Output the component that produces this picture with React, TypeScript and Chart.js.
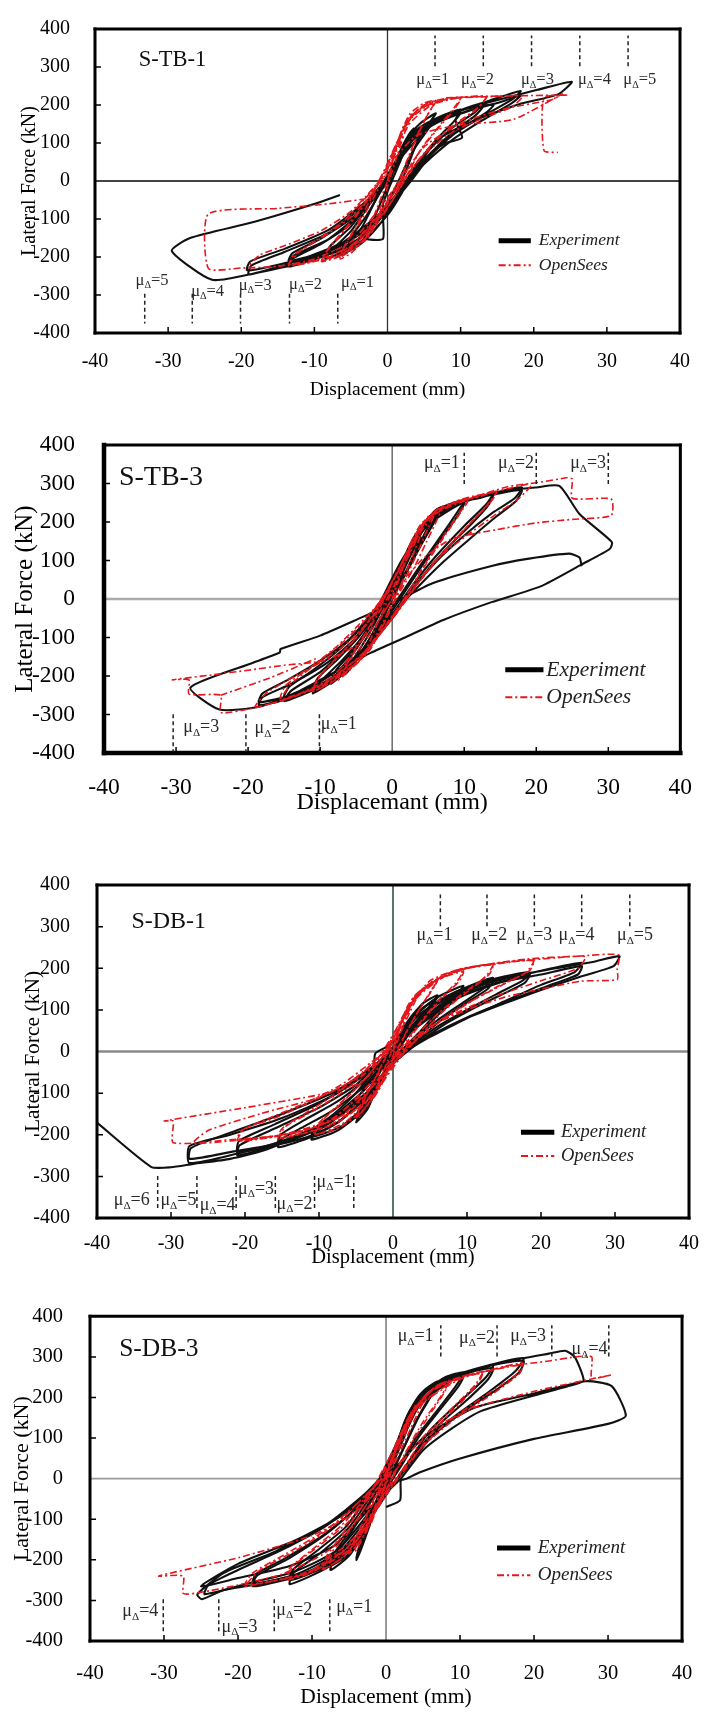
import React, { useEffect, useRef } from "react";
import { Chart, registerables } from "chart.js";
Chart.register(...registerables);

const SERIF = "'Liberation Serif', 'Times New Roman', serif";
const RED = "#e5161c";
const BLACK = "#111111";

// ---------- axes / labels ----------
const xTickValues = [-40, -30, -20, -10, 0, 10, 20, 30, 40];
const yTickValues = [-400, -300, -200, -100, 0, 100, 200, 300, 400];
const panelNames = ["S-TB-1", "S-TB-3", "S-DB-1", "S-DB-3"];
const xAxisTitles = ["Displacement (mm)", "Displacemant (mm)", "Displacement (mm)", "Displacement (mm)"];
const yAxisTitle = "Lateral Force (kN)";
const legendLabels = ["Experiment", "OpenSees"];

// ---------- S-TB-1 ----------
const tb1Experiment = [[
  0,0, 1,45, 2,90, 3,125, 3.6,138, 2.8,105, 1.8,55, 0.6,0, -0.6,-60, -0.6,-100, -0.6,-152, -2,-155, -3.2,-150, -2.2,-115, -1,-60, 0.3,0,
  1.5,60, 3,120, 4.5,152, 6.6,178, 5.6,150, 4,100, 2.8,40, 1.5,-20, 0,-85, -2,-135, -4,-170, -6.5,-195, -5.5,-170, -3.5,-122, -1.5,-45, 0,15,
  1.8,75, 4,135, 7,168, 10,188, 9.3,160, 10.2,114, 8,100, 6,75, 3.5,25, 2,-30, 0,-90, -3,-150, -6,-185, -8.5,-205, -7.5,-180, -5,-132, -2.5,-62, -0.5,0,
  1.5,62, 4,128, 7.5,170, 10.5,190, 13,205, 12,182, 9,142, 6,88, 3,10, 0,-80, -4,-152, -8,-192, -11,-212, -13.5,-225, -13,-205, -9,-165, -5,-112, -2,-42, 0,10,
  2,72, 5,140, 9,180, 12,195, 14.5,200, 13.5,180, 10,138, 6.5,82, 3.2,0, 0,-72, -4,-142, -9,-192, -13.5,-217, -12.8,-196, -8,-152, -3,-72, 0,0,
  3,100, 6,155, 10,185, 14,212, 18.2,237, 17,214, 13,170, 9,122, 5.5,60, 2.8,0, 0,-70, -5,-152, -10,-197, -15,-226, -19,-246, -18.6,-222, -14,-186, -8,-136, -3,-60, 0,10,
  3,105, 6.5,162, 11,192, 16,218, 20.5,240, 25.2,261, 23.3,228, 18,202, 12,160, 7,110, 3,10, 0,-80, -6,-167, -12,-216, -18,-242, -24,-260, -29.5,-184, -27,-150, -18.3,-108, -9.6,-58, -6.5,-37,
], [
  0,0, 2,70, 4,120, 6.5,160, 5.5,135, 3.5,80, 2,20, 0.5,-40, -1.5,-100, -4,-155, -6.5,-185, -5.5,-158, -3,-95, -1,-30,
  1,30, 3.5,110, 7,160, 10,180, 9,155, 6.5,105, 4,45, 2.5,0, 0,-75, -3,-140, -6,-178, -8.5,-195, -7.8,-170, -5,-120, -2,-45,
  0.5,20, 3,100, 7,158, 10.5,180, 13,195, 12,172, 9,130, 6,75, 3.5,15, 1,-50, -3,-130, -7.5,-180, -11,-200, -13.5,-210, -13,-190, -9,-150, -4,-85, -1,-15,
  2,65, 6,145, 11,185, 15,205, 18.2,225, 17,205, 13,160, 9,110, 5,45, 2.5,-5, -1,-85, -6,-160, -11,-200, -16,-225, -19.2,-235, -18.8,-212, -14,-178, -8,-128, -3,-55, 0,5,
]];
const tb1OpenSees = [[
  0,0, 1,75, 2,135, 3,170, 3.5,180, 2.5,135, 1.2,60, 0,-15, -1,-80, -2,-130, -3.2,-160, -2.5,-125, -1.2,-60, 0,0,
  1.5,100, 3,165, 5,200, 6.6,210, 5.5,175, 4,115, 2.5,40, 1,-40, -1.5,-115, -4,-170, -6.5,-200, -5.5,-160, -3.5,-100, -1.5,-30, 0,30,
  2,130, 4,185, 7,210, 10,218, 9,185, 7,140, 4.5,80, 2.5,10, 0,-70, -3,-140, -6,-190, -9,-210, -8,-175, -6,-130, -3.5,-70, -1.5,-10,
  1,80, 3,160, 6,205, 9,218, 13.5,222, 12,185, 9,145, 6,95, 3,20, 0,-70, -4,-160, -8,-200, -13.5,-222, -12,-185, -9,-150, -5,-95, -2,-30,
  0.5,50, 3,150, 6,200, 9.5,218, 14,222, 18.5,224, 17,195, 13,165, 9,130, 5,70, 2,0, -1,-80, -5,-170, -10,-210, -14,-222, -19,-227, -17.5,-195, -14,-170, -9,-130, -5,-80, -2,-20,
  1,60, 4,120, 10,148, 17.2,162, 23.9,229, 22.5,214, 16,190, 10,152, 5,90, 2,10, -1,-70, -5,-160, -10,-205, -15,-225, -20,-229, -24.5,-230, -24.5,-87, -15,-72, -8,-60, -2.2,-45,
], [
  8,219, 14,223, 20,225, 24.5,226, 21.4,219, 21.4,80, 23.3,75,
], [
  0,0, 1.5,110, 3,175, 5,205, 6.6,212, 5.8,185, 4.5,140, 3,70, 1.5,0, -0.5,-70, -2.5,-140, -5,-190, -6.5,-205, -6,-175, -4.5,-125, -2.5,-55,
  -0.5,20, 2.5,150, 5.5,205, 8,217, 10,219, 9.2,195, 7.5,155, 5,95, 2.5,20, 0,-60, -3,-150, -6.5,-198, -9,-212, -8.5,-190, -6.5,-145, -4,-85, -1.5,-15,
  1.5,110, 4,185, 8,215, 13.5,222, 12.5,195, 10,160, 7,115, 4,50, 1,-30, -2,-110, -6,-190, -10,-212, -13.5,-223, -12.8,-195, -10,-160, -6,-105, -3,-45, 0,20,
]];
const tb1MuTopX = [6.5, 13.1, 19.7, 26.3, 32.9];
const tb1MuTopLabelX = [6.2, 12.3, 20.5, 28.3, 34.5];
const tb1MuTopLabelY = [269, 269, 269, 269, 269];
const tb1MuTopNum = [1, 2, 3, 4, 5];
const tb1MuBotX = [-33.2, -26.7, -20.1, -13.4, -6.8];
const tb1MuBotLabelX = [-32.2, -24.6, -18.1, -11.2, -4.1];
const tb1MuBotLabelY = [-259, -287, -272, -270, -264];
const tb1MuBotNum = [5, 4, 3, 2, 1];

// ---------- S-TB-3 ----------
const tb3Experiment = [[
  0,0, 1.5,70, 3,130, 4,160, 3,115, 1.5,55, 0,0, -1.5,-60, -3,-115, -4,-140, -3,-100, -1.5,-45, 0,20,
  2,95, 4,170, 5.5,205, 4.5,170, 3,110, 1,40, -1,-30, -3,-105, -5,-160, -6.5,-195, -5.5,-160, -3.5,-100, -1.5,-30,
  0.5,50, 3,150, 5.5,215, 7,238, 6,205, 4,140, 2,70, 0,0, -3,-100, -6,-180, -8.5,-220, -7.5,-190, -5,-130, -2.5,-55,
  0,40, 3,160, 6,230, 8.5,250, 10,256, 9,225, 7,170, 4,90, 1.5,20, -1,-50, -4,-140, -8,-210, -11,-245, -10,-215, -7,-160, -4,-95, -1.5,-20,
  1,80, 4,185, 8,245, 12,265, 14,275, 13,245, 10,190, 6,110, 3,40, 0,-40, -4,-140, -9,-220, -14,-260, -15,-265, -14,-238, -10,-190, -6,-120, -2.5,-40,
  0.5,60, 4,180, 9,248, 14,275, 18,290, 17,262, 14,225, 10,165, 6,95, 3,30, 0,-50, -5,-160, -10,-225, -15,-262, -18.5,-276, -18,-255, -14,-220, -9,-165, -5,-100, -2,-20,
  1,90, 5,205, 10,255, 16,282, 20,290, 23.2,294, 26,221, 30.5,148, 30.2,130, 26.3,90, 20.6,33, 13.8,-8, 7,-55, 2,-98, -3,-140, -8,-190, -13,-240, -18.5,-280, -24,-287, -28,-230,
  -20,-170, -15.6,-139, -15.5,-130, -10,-95, -4.4,-49, 0,-12, 5.6,41, 13.8,86, 19,105, 24.5,118, 26,108, 26.3,85,
], [
  0,0, 2,110, 4,185, 6,230, 7,240, 6.2,215, 4.5,160, 2.5,90, 0.5,20, -1.5,-50, -4,-130, -6.5,-190, -8.5,-215, -7.8,-185, -5.5,-135, -3,-65,
  -0.5,10, 2.5,130, 5.5,215, 8.5,248, 10,250, 9.2,220, 7.5,175, 5,110, 2.5,40, 0,-30, -3.5,-125, -7,-195, -11,-238, -10.3,-205, -7.5,-155, -4.5,-95, -2,-25,
  1.5,100, 5,205, 9,250, 12,262, 14,270, 13.2,240, 11,195, 7.5,130, 4,55, 1,-20, -3.5,-120, -8,-200, -12,-240, -15,-255, -14.3,-228, -11,-185, -7,-125, -3,-50,
  0.5,50, 4.5,185, 10,252, 15,275, 18,283, 17.2,255, 14.5,215, 11,160, 7,95, 3.5,30, 0,-40, -5,-150, -10,-215, -14,-250, -18.5,-268, -18,-245, -14.5,-210, -10,-160, -6,-105, -2.5,-30, 0,30,
]];
const tb3OpenSees = [[
  0,0, 1.5,80, 3,145, 4,170, 3,120, 1.5,50, 0,-10, -1.5,-80, -3,-130, -4,-150, -3,-105, -1.5,-40, 0,20,
  2.5,120, 4.5,195, 6,225, 5,185, 3.5,120, 1.5,40, -1,-50, -3,-120, -5.5,-175, -7,-200, -6,-160, -4,-100, -2,-30,
  0.5,60, 3,160, 6,230, 9,252, 10.5,258, 9,215, 7,160, 4.5,90, 2,10, -1,-70, -4,-150, -8,-210, -11,-240, -10,-200, -7.5,-150, -4.5,-90, -2,-20,
  1,80, 4,195, 8,248, 12,265, 14.5,280, 13,240, 10.5,190, 7,120, 3.5,40, 0,-50, -4,-140, -9,-215, -14,-255, -15.5,-262, -14,-220, -11,-175, -7,-115, -3,-40,
  0.5,60, 4,190, 9,255, 14,278, 18,295, 19.5,300, 17.5,260, 14,215, 10,160, 6,100, 3,30, 0,-50, -5,-165, -10,-228, -15,-262, -19,-280, -17.5,-245, -14,-205, -10,-165, -6,-110, -2,-30,
  1,80, 5,210, 10,255, 16,292, 20,302, 24.3,315, 25,312, 25,262, 30.4,260, 30.4,217, 25,207, 20,198, 14.4,180, 8.1,155, 4,100, 1,30, -2,-60, -5,-140, -9,-210, -14,-255, -19,-282, -23.8,-295,
  -23.8,-250, -28.2,-247, -28.2,-210, -30.5,-210, -25,-197, -20,-185, -15,-172, -9.4,-160, -5,-120, -2,-60, 0,0,
], [
  -23.8,-250, -17,-205, -10.6,-155,
], [
  0,0, 2,110, 4,185, 6,228, 7,240, 6.2,205, 4.8,150, 3,80, 0.8,10, -1.5,-75, -4,-150, -6.5,-195, -7.5,-210, -6.8,-175, -5,-125, -2.5,-55,
  0,25, 3,150, 6.5,230, 9.5,255, 10.5,255, 9.5,225, 7.5,170, 5,100, 2.5,25, -0.5,-60, -4.5,-160, -8.5,-218, -11,-238, -10.3,-205, -8,-158, -5,-100, -2,-25,
  1.5,100, 5,215, 10,258, 14.5,278, 13.5,248, 11,200, 7.5,130, 4,50, 0.5,-40, -4.5,-150, -10,-225, -15.5,-260, -14.8,-225, -11.5,-180, -7.5,-120, -3,-35, 0,30,
]];
const tb3MuTopX = [10, 20, 30];
const tb3MuTopLabelX = [6.9, 17.2, 27.2];
const tb3MuTopLabelY = [356, 356, 356];
const tb3MuTopNum = [1, 2, 3];
const tb3MuBotX = [-30.4, -20.3, -10.1];
const tb3MuBotLabelX = [-26.5, -16.6, -7.4];
const tb3MuBotLabelY = [-331, -333, -323];
const tb3MuBotNum = [3, 2, 1];

// ---------- S-DB-1 ----------
const db1Experiment = [[
  0,0, 1.2,50, 2.5,85, 3.5,105, 2.5,75, 1.2,35, 0,-5, -1.2,-40, -2.4,-45, -2.4,-5, -1,10,
  0.5,30, 2,70, 4,115, 6,135, 5,110, 3,65, 1,15, -1,-40, -2.5,-100, -3.5,-140, -5,-170, -4,-130, -2.5,-75, -1,-25,
  0.5,20, 3,85, 6,130, 9.5,158, 8.5,135, 6,95, 3.5,45, 1,0, -1.5,-60, -4,-140, -7.5,-190, -11,-212, -10.5,-195, -8,-165, -5,-115, -2.5,-55,
  0,10, 3,80, 7,130, 11,162, 13.5,177, 12.5,155, 9.5,118, 6,75, 3,30, 0,-20, -3,-95, -7,-165, -11,-205, -15.5,-230, -15.2,-212, -12,-180, -8,-140, -4,-85, -1,-20,
  2,50, 6,115, 11,160, 15,180, 18.5,190, 17.5,170, 14,138, 10,100, 6,60, 3,20, 0,-25, -4,-110, -9,-175, -14,-215, -21,-250, -20.7,-225, -16,-185, -10,-135, -5,-80, -1.5,-20,
  2,45, 7,120, 13,165, 19,190, 25.5,213, 24.5,190, 20,160, 15,120, 10,80, 5,35, 1,-10, -3,-90, -9,-170, -15,-215, -21,-245, -27.5,-268, -27.5,-227, -22,-200, -15,-160, -8,-105, -3,-45,
  0,10, 4,80, 10,150, 16,180, 22,200, 27,215, 30.6,229, 29.8,205, 25,178, 20,148, 15,115, 10,80, 5,35, 0,-10, -4,-95, -10,-180, -17,-235, -22,-258, -27,-270, -30,-278, -32.7,-277, -40,-171,
], [
  0,0, 1.5,55, 3,90, 6,130, 5.2,112, 3.5,75, 1.5,25, -0.5,-25, -2,-80, -3.5,-135, -5,-160, -4.3,-128, -3,-85, -1.5,-35,
  0.5,15, 3,80, 6.5,125, 9.5,150, 8.8,130, 6.5,95, 4,50, 1.5,5, -1,-50, -3.5,-125, -7,-180, -11,-205, -10.6,-185, -8,-150, -5,-100, -2,-35,
  0.5,15, 4,90, 8,135, 11.5,160, 13.5,170, 12.8,150, 10,118, 6.5,75, 3.5,30, 0.5,-15, -3,-100, -7.5,-170, -11.5,-205, -15.5,-222, -15.2,-200, -12,-165, -7.5,-120, -3.5,-65, -0.5,0,
  3,60, 8,125, 13,160, 17,178, 18.5,185, 17.8,165, 14.5,135, 10.5,100, 6.5,60, 3,15, 0,-30, -4.5,-120, -10,-185, -15,-220, -21,-242, -20.8,-215, -16,-175, -10,-125, -5,-70, -1,-10,
  3,55, 9,130, 15,168, 20,185, 25.5,205, 25,185, 21,158, 16,125, 10,82, 5,38, 1,-5, -3.5,-100, -9,-175, -16,-222, -21.5,-240, -27.5,-258, -27.3,-232, -22,-195, -15,-150, -8,-98, -3,-40, 0,5,
]];
const db1OpenSees = [[
  0,0, 1,65, 2,110, 3,135, 2.2,100, 1,45, 0,-10, -1,-60, -2,-95, -3,-120, -2.2,-85, -1,-35, 0,10,
  1.5,90, 3.5,140, 6,170, 5,140, 3,85, 1,20, -1,-55, -3,-120, -5,-160, -4,-120, -2.5,-70, -1,-15,
  1,65, 3,135, 6,175, 9.5,195, 8.5,165, 6,120, 3,55, 0,-20, -3,-110, -6.5,-170, -10.5,-200, -9.5,-165, -7,-125, -4,-70, -1,-5,
  2,100, 5,165, 9,195, 13.5,210, 12.5,180, 9.5,140, 6,90, 3,35, 0,-30, -4,-125, -9,-180, -15.5,-210, -14.5,-180, -11,-145, -7,-100, -3,-40,
  0.5,40, 3,130, 7,185, 13,210, 19,220, 18,190, 14,155, 10,115, 6,70, 2,10, -2,-70, -7,-155, -13,-195, -21,-215, -20,-185, -16,-160, -11,-120, -6,-75, -2,-15,
  1,70, 4,150, 9,195, 16,215, 22,225, 26,228, 25,200, 20,170, 15,140, 10,105, 5,60, 1,0, -3,-85, -9,-170, -16,-205, -22,-215, -27,-220, -25,-190, -18,-150, -10,-110, -4,-55,
  0,10, 4,150, 10,200, 18,222, 25,229, 30.5,232, 30.3,197, 30.3,173, 25.4,169, 20,150, 15,130, 10,100, 5,60, 1,5, -3,-75, -8,-160, -15,-200, -22,-212, -29.7,-219,
  -29.7,-167, -30.9,-167, -20,-135, -9.7,-103, -5,-80, -2,-40,
], [
  0,0, 1.5,90, 3,130, 6,170, 5.2,148, 3.5,100, 1.5,35, -0.5,-40, -2.5,-105, -5,-160, -4.3,-125, -3,-85, -1.5,-30,
  0.5,45, 3,130, 6,172, 9.5,192, 9,170, 7,135, 4.5,85, 2,25, -1,-60, -4,-140, -7.5,-185, -10.5,-198, -10,-172, -7.5,-130, -4.5,-80, -1.5,-15,
  1.5,90, 5,170, 9.5,200, 13.5,208, 13,185, 10.5,150, 7,100, 4,45, 1,-15, -3,-110, -8,-175, -15.5,-208, -15,-185, -12,-150, -8,-105, -4,-50, -0.5,15,
  3,125, 8,192, 14,212, 19,218, 18.5,195, 15,162, 11,125, 7,80, 3,25, -1,-50, -6,-145, -12,-190, -21,-213, -20.5,-190, -17,-162, -12,-125, -7,-80, -2.5,-20, 0,10,
]];
const db1MuTopX = [6.4, 12.7, 19.1, 25.5, 32.0];
const db1MuTopLabelX = [5.6, 13, 19.1, 24.8, 32.7];
const db1MuTopLabelY = [281, 281, 281, 281, 281];
const db1MuTopNum = [1, 2, 3, 4, 5];
const db1MuBotX = [-31.8, -26.5, -21.2, -15.9, -10.6, -5.3];
const db1MuBotLabelX = [-35.3, -29, -23.7, -18.5, -13.3, -7.9];
const db1MuBotLabelY = [-355, -355, -367, -327, -363, -311];
const db1MuBotNum = [6, 5, 4, 3, 2, 1];

// ---------- S-DB-3 ----------
const db3Experiment = [[
  0,0, 1,50, 2,100, 3,140, 2.2,105, 1,50, 0,0, -1,-50, -2,-100, -2.5,-120, -1.8,-80, -0.8,-30,
  0.5,30, 2,110, 3.5,170, 4,190, 3.5,150, 2,90, 0.5,20, -1,-50, -2.5,-130, -3.5,-180, -4,-200, -3.2,-150, -2,-90, -0.5,-20,
  1,60, 3,160, 5,215, 7,240, 6,205, 4,140, 2,60, 0,-20, -2.5,-120, -5,-190, -7.5,-225, -7,-195, -5,-140, -2.5,-70,
  0,10, 2.5,130, 5,210, 8,250, 10.5,262, 9.5,230, 7,170, 4,100, 1.5,20, -1,-60, -4,-160, -8,-220, -13,-260, -12.5,-232, -9,-185, -5,-120, -2,-40,
  1,70, 4,190, 8,245, 12,270, 14.5,280, 13.5,250, 10,190, 6,120, 3,40, 0,-40, -5,-170, -10,-230, -15,-255, -18,-265, -17.5,-240, -13,-195, -8,-135, -3,-55,
  0,20, 4,180, 9,250, 14,280, 18.6,297, 17.5,265, 14,215, 9,150, 5,85, 2,10, -1,-60, -6,-175, -12,-235, -18,-262, -22,-275, -24.9,-297, -25.5,-285, -21.9,-232, -15,-180, -8,-112, -3,-40,
  0,20, 4,170, 8,240, 13,275, 18,295, 22,308, 24.2,315, 25.5,300, 26.7,242, 25.4,232, 20,205, 12.9,167, 9,125, 5,70, 2,0, -2,-70, -7,-165, -13,-215, -20,-245, -25,-265,
  -20,-210, -12,-150, -5,-80, 0,0, 5,100, 12,175, 20,210, 27,240, 30.5,228, 32.4,155, 30,135, 20,98, 9.9,49, 4.5,15, 2.8,0, 2,-5, 1.9,-53, 0,-70,
], [
  0,0, 1.5,80, 3,150, 4,185, 3.6,160, 2.5,105, 1,40, -0.5,-25, -2,-100, -3.5,-170, -4,-195, -3.6,-165, -2.6,-115, -1.2,-50,
  0.5,30, 2.5,140, 4.5,205, 7,235, 6.3,210, 4.5,155, 2.5,80, 0,-10, -2.5,-110, -5,-185, -7.5,-215, -7.2,-190, -5.5,-145, -3,-80,
  -0.5,0, 2.5,125, 5.5,215, 8.5,248, 10.5,255, 9.8,228, 7.5,175, 4.5,105, 2,30, -1,-55, -4.5,-165, -8.5,-220, -13,-250, -12.6,-225, -9.5,-180, -5.5,-120, -2.5,-45,
  0.5,40, 4,175, 8.5,240, 12,265, 14.5,272, 13.8,245, 11,195, 7,130, 3.5,50, 0.5,-25, -4.5,-155, -10,-225, -15,-250, -18,-258, -17.6,-235, -13.5,-195, -8.5,-140, -3.5,-65,
  0,10, 4.5,180, 10,255, 15,282, 18.6,290, 18,262, 15,220, 10,160, 6,100, 2.5,20, -1,-55, -6.5,-175, -12.5,-230, -18,-255, -24.5,-285, -24,-262, -20,-225, -14,-175, -8,-115, -3,-45, 0,10,
]];
const db3OpenSees = [[
  0,0, 1,60, 2,110, 3,145, 2.2,110, 1,50, 0,-5, -1,-60, -2,-110, -2.8,-135, -2,-95, -1,-45, 0,10,
  2,105, 4,175, 5.5,205, 4.5,170, 3,110, 1,30, -1,-60, -3,-140, -5,-185, -4,-140, -2.5,-85, -1,-25,
  1,60, 3.5,165, 6.5,225, 8.5,240, 7.5,205, 5,140, 2.5,60, 0,-30, -3,-130, -6,-195, -8.5,-225, -7.5,-185, -5,-130, -2.5,-60,
  0,10, 3,150, 7,230, 11,255, 13,262, 12,230, 9,175, 5.5,110, 2.5,30, -1,-70, -5,-175, -10,-230, -13.5,-250, -12.5,-215, -9,-165, -5,-105, -2,-30,
  1,70, 5,200, 10,250, 15,272, 18.5,285, 17.5,255, 13,200, 8,135, 4,60, 0,-30, -5,-165, -11,-235, -17,-258, -19,-265, -17,-225, -12,-175, -7,-115, -3,-45,
  0,15, 4,170, 10,245, 16,275, 22,290, 26,301, 27.8,300, 27.8,248, 30.5,256, 25,235, 20,215, 12,175, 6,120, 3,60, 0,-10, -3,-85, -8,-180, -14,-235, -20,-262, -25,-280, -27.4,-283,
  -27.4,-240, -30.7,-240, -20,-195, -10,-140, -4,-80, -1,-20,
], [
  0,0, 1.5,90, 3,150, 4,180, 3.6,155, 2.5,105, 1,40, -0.5,-35, -2,-100, -3.5,-160, -4.2,-180, -3.8,-150, -2.8,-100, -1.2,-40,
  0.5,30, 3,145, 6,215, 8.5,238, 7.8,210, 5.8,155, 3.2,80, 0.5,-10, -2.5,-115, -5.5,-190, -8.5,-222, -8,-190, -6,-140, -3.5,-75, -1,-5,
  2,110, 6,215, 10,250, 13,258, 12.3,232, 10,185, 6.5,120, 3.5,45, 0,-40, -4.5,-160, -9.5,-225, -13.5,-245, -13,-220, -10,-175, -6,-115, -2.5,-40,
  0.5,40, 4.5,180, 10,248, 15,270, 18.5,280, 18,258, 14.5,210, 9.5,150, 5,80, 1,-10, -4,-140, -10,-225, -16,-255, -19,-260, -18,-232, -13.5,-185, -8,-125, -3.5,-55, 0,10,
]];
const db3MuTopX = [7.4, 15.0, 22.4, 30.1];
const db3MuTopLabelX = [4.0, 12.3, 19.2, 27.5];
const db3MuTopLabelY = [354, 350, 354, 321];
const db3MuTopNum = [1, 2, 3, 4];
const db3MuBotX = [-30.1, -22.6, -15.1, -7.6];
const db3MuBotLabelX = [-33.2, -19.8, -12.4, -4.3];
const db3MuBotLabelY = [-325, -362, -321, -313];
const db3MuBotNum = [4, 3, 2, 1];

// ---------- panel set-up ----------
const panels = [
  {
    top: 0, height: 410, L: 95, R: 680, T: 15, B: 333,
    tickFont: 20, xTickPad: 9, yTickPad: 17, xTitleFont: 19.5, xTitlePad: 8.3, yTitleFont: 20, yTitlePad: 18,
    frame: [3, 3, 3, 3], zeroH: ["#444", 2], zeroV: ["#333", 1.3],
    exp: tb1Experiment, ops: tb1OpenSees,
    muTop: [tb1MuTopX, tb1MuTopLabelX, tb1MuTopLabelY, tb1MuTopNum], muTopRange: [302, 383],
    muBot: [tb1MuBotX, tb1MuBotLabelX, tb1MuBotLabelY, tb1MuBotNum], muBotRange: [-297, -375],
    muFont: 16.5, name: [-29.4, 319, 22.5],
    legend: { x1: 15.2, x2: 19.6, tx: 20.7, y1: -157, y2: -222, font: 17.5 },
  },
  {
    top: 410, height: 430, L: 104, R: 684, T: 428, B: 753,
    tickFont: 23.5, xTickPad: 12.9, yTickPad: 21, xTitleFont: 24, xTitlePad: 22.6, yTitleFont: 25, yTitlePad: 10,
    frame: [3, 3, 4.5, 4.5], zeroH: ["#aaaaaa", 2.5], zeroV: ["#555", 1.3],
    exp: tb3Experiment, ops: tb3OpenSees,
    muTop: [tb3MuTopX, tb3MuTopLabelX, tb3MuTopLabelY, tb3MuTopNum], muTopRange: [299, 380],
    muBot: [tb3MuBotX, tb3MuBotLabelX, tb3MuBotLabelY, tb3MuBotNum], muBotRange: [-299, -397],
    muFont: 18, name: [-32.1, 316, 28],
    legend: { x1: 15.7, x2: 21, tx: 21.4, y1: -184, y2: -255, font: 21.5 },
  },
  {
    top: 840, height: 445, L: 97, R: 698, T: 885, B: 1218,
    tickFont: 20, xTickPad: 6, yTickPad: 19, xTitleFont: 20.5, xTitlePad: 14.7, yTitleFont: 21.5, yTitlePad: 20,
    frame: [3, 3, 3, 3], zeroH: ["#8a8a8a", 2.5], zeroV: ["#1e4a38", 1.5],
    exp: db1Experiment, ops: db1OpenSees,
    muTop: [db1MuTopX, db1MuTopLabelX, db1MuTopLabelY, db1MuTopNum], muTopRange: [301, 377],
    muBot: [db1MuBotX, db1MuBotLabelX, db1MuBotLabelY, db1MuBotNum], muBotRange: [-299, -379],
    muFont: 18, name: [-30.3, 311, 24],
    legend: { x1: 17.3, x2: 21.8, tx: 22.7, y1: -194, y2: -251, font: 18.5 },
  },
  {
    top: 1285, height: 428, L: 90, R: 699, T: 1314, B: 1641,
    tickFont: 20.5, xTickPad: 12.7, yTickPad: 19, xTitleFont: 21.5, xTitlePad: 3.1, yTitleFont: 22, yTitlePad: 8.8,
    frame: [3, 3, 3, 3], zeroH: ["#999999", 1.8], zeroV: ["#555", 1.2],
    exp: db3Experiment, ops: db3OpenSees,
    muTop: [db3MuTopX, db3MuTopLabelX, db3MuTopLabelY, db3MuTopNum], muTopRange: [301, 378],
    muBot: [db3MuBotX, db3MuBotLabelX, db3MuBotLabelY, db3MuBotNum], muBotRange: [-297, -378],
    muFont: 18, name: [-30.7, 319, 25.5],
    legend: { x1: 15, x2: 19.5, tx: 20.5, y1: -171, y2: -238, font: 19 },
  },
];

function toPoints(flat: number[]) {
  const pts: { x: number; y: number }[] = [];
  for (let i = 0; i + 1 < flat.length; i += 2) pts.push({ x: flat[i], y: flat[i + 1] });
  return pts;
}

function drawMu(ctx: CanvasRenderingContext2D, cx: number, cy: number, n: number, size: number) {
  ctx.font = `${size}px ${SERIF}`;
  const w1 = ctx.measureText("\u03bc").width;
  const w3 = ctx.measureText("=" + n).width;
  ctx.font = `${size * 0.62}px ${SERIF}`;
  const w2 = ctx.measureText("\u0394").width;
  const start = cx - (w1 + w2 + w3) / 2;
  const base = cy + size * 0.33;
  ctx.textAlign = "left";
  ctx.textBaseline = "alphabetic";
  ctx.font = `${size}px ${SERIF}`;
  ctx.fillText("\u03bc", start, base);
  ctx.font = `${size * 0.62}px ${SERIF}`;
  ctx.fillText("\u0394", start + w1, base + size * 0.2);
  ctx.font = `${size}px ${SERIF}`;
  ctx.fillText("=" + n, start + w1 + w2, base);
}

function makePlugin(p: any, idx: number) {
  return {
    id: "deco" + idx,
    beforeDatasetsDraw(chart: any) {
      const { ctx, chartArea: a, scales } = chart;
      const xs = scales.x, ys = scales.y;
      ctx.save();
      const y0 = ys.getPixelForValue(0);
      ctx.strokeStyle = p.zeroH[0];
      ctx.lineWidth = p.zeroH[1];
      ctx.beginPath(); ctx.moveTo(a.left, y0); ctx.lineTo(a.right, y0); ctx.stroke();
      const x0 = xs.getPixelForValue(0);
      ctx.strokeStyle = p.zeroV[0];
      ctx.lineWidth = p.zeroV[1];
      ctx.beginPath(); ctx.moveTo(x0, a.top); ctx.lineTo(x0, a.bottom); ctx.stroke();
      ctx.restore();
    },
    afterDatasetsDraw(chart: any) {
      const { ctx, chartArea: a, scales } = chart;
      const xs = scales.x, ys = scales.y;
      ctx.save();
      ctx.strokeStyle = "#000";
      ctx.lineWidth = 1.5;
      ctx.beginPath();
      for (const v of yTickValues) {
        if (v === 400 || v === -400 || v === 0) continue;
        const py = ys.getPixelForValue(v);
        ctx.moveTo(a.left, py); ctx.lineTo(a.left + 6, py);
      }
      for (const v of xTickValues) {
        if (v === 40 || v === -40 || v === 0) continue;
        const px = xs.getPixelForValue(v);
        ctx.moveTo(px, a.bottom); ctx.lineTo(px, a.bottom - 6);
      }
      ctx.stroke();
      const [ft, fr, fb, fl] = p.frame;
      ctx.strokeStyle = "#000";
      ctx.lineCap = "square";
      ctx.lineWidth = ft; ctx.beginPath(); ctx.moveTo(a.left, a.top); ctx.lineTo(a.right, a.top); ctx.stroke();
      ctx.lineWidth = fr; ctx.beginPath(); ctx.moveTo(a.right, a.top); ctx.lineTo(a.right, a.bottom); ctx.stroke();
      ctx.lineWidth = fb; ctx.beginPath(); ctx.moveTo(a.left, a.bottom); ctx.lineTo(a.right, a.bottom); ctx.stroke();
      ctx.lineWidth = fl; ctx.beginPath(); ctx.moveTo(a.left, a.top); ctx.lineTo(a.left, a.bottom); ctx.stroke();
      ctx.lineCap = "butt";
      ctx.strokeStyle = "#222";
      ctx.lineWidth = 1.5;
      ctx.setLineDash([4, 3]);
      const drawLines = (xsArr: number[], r: number[]) => {
        for (const v of xsArr) {
          const px = xs.getPixelForValue(v);
          ctx.beginPath();
          ctx.moveTo(px, ys.getPixelForValue(r[0]));
          ctx.lineTo(px, ys.getPixelForValue(r[1]));
          ctx.stroke();
        }
      };
      drawLines(p.muTop[0], p.muTopRange);
      drawLines(p.muBot[0], p.muBotRange);
      ctx.setLineDash([]);
      ctx.fillStyle = "#2a2a2a";
      const drawLabels = (m: any[]) => {
        for (let i = 0; i < m[1].length; i++) {
          drawMu(ctx, xs.getPixelForValue(m[1][i]), ys.getPixelForValue(m[2][i]), m[3][i], p.muFont);
        }
      };
      drawLabels(p.muTop);
      drawLabels(p.muBot);
      const lg = p.legend;
      const lx1 = xs.getPixelForValue(lg.x1), lx2 = xs.getPixelForValue(lg.x2), ltx = xs.getPixelForValue(lg.tx);
      const ly1 = ys.getPixelForValue(lg.y1), ly2 = ys.getPixelForValue(lg.y2);
      ctx.strokeStyle = "#000";
      ctx.lineWidth = 5;
      ctx.beginPath(); ctx.moveTo(lx1, ly1); ctx.lineTo(lx2, ly1); ctx.stroke();
      ctx.strokeStyle = RED;
      ctx.lineWidth = 2;
      ctx.setLineDash([7, 3, 2, 3]);
      ctx.beginPath(); ctx.moveTo(lx1, ly2); ctx.lineTo(lx2, ly2); ctx.stroke();
      ctx.setLineDash([]);
      ctx.fillStyle = "#222";
      ctx.font = `italic ${lg.font}px ${SERIF}`;
      ctx.textAlign = "left";
      ctx.textBaseline = "middle";
      ctx.fillText(legendLabels[0], ltx, ly1);
      ctx.fillText(legendLabels[1], ltx, ly2);
      ctx.fillStyle = "#111";
      ctx.font = `${p.name[2]}px ${SERIF}`;
      ctx.textAlign = "center";
      ctx.textBaseline = "middle";
      ctx.fillText(panelNames[idx], xs.getPixelForValue(p.name[0]), ys.getPixelForValue(p.name[1]));
      ctx.restore();
    },
  };
}

function Panel({ idx }: { idx: number }) {
  const ref = useRef<HTMLCanvasElement>(null);
  const p: any = panels[idx];
  useEffect(() => {
    if (!ref.current) return;
    const datasets: any[] = [];
    p.ops.forEach((seg: number[]) =>
      datasets.push({
        data: toPoints(seg), showLine: true, pointRadius: 0, borderColor: RED, borderWidth: 1.6,
        borderDash: [7, 3, 2, 3], tension: 0.2, order: 0,
      })
    );
    p.exp.forEach((seg: number[]) =>
      datasets.push({
        data: toPoints(seg), showLine: true, pointRadius: 0, borderColor: BLACK, borderWidth: 2.1,
        tension: 0.2, order: 1,
      })
    );
    const chart = new Chart(ref.current, {
      type: "scatter",
      data: { datasets },
      options: {
        animation: false,
        responsive: false,
        events: [],
        layout: { autoPadding: false, padding: { left: 0, right: 705 - p.R, top: p.T - p.top, bottom: 0 } },
        plugins: { legend: { display: false }, tooltip: { enabled: false } },
        scales: {
          x: {
            type: "linear", min: -40, max: 40,
            afterBuildTicks: (s: any) => { s.ticks = xTickValues.map((v) => ({ value: v })); },
            afterFit: (s: any) => { s.height = p.top + p.height - p.B; },
            grid: { display: false }, border: { display: false },
            ticks: {
              color: "#000", padding: p.xTickPad, maxRotation: 0, autoSkip: false,
              font: { family: SERIF, size: p.tickFont, lineHeight: 1.2 },
              callback: (v: any) => String(v),
            },
            title: {
              display: true, text: xAxisTitles[idx], color: "#000",
              font: { family: SERIF, size: p.xTitleFont, lineHeight: 1.2 },
              padding: { top: 0, bottom: p.xTitlePad },
            },
          },
          y: {
            type: "linear", min: -400, max: 400,
            afterBuildTicks: (s: any) => { s.ticks = yTickValues.map((v) => ({ value: v })); },
            afterFit: (s: any) => { s.width = p.L; },
            grid: { display: false }, border: { display: false },
            ticks: {
              color: "#000", padding: p.yTickPad, autoSkip: false,
              font: { family: SERIF, size: p.tickFont, lineHeight: 1.2 },
              callback: (v: any) => String(v),
            },
            title: {
              display: true, text: yAxisTitle, color: "#000",
              font: { family: SERIF, size: p.yTitleFont, lineHeight: 1.2 },
              padding: { top: p.yTitlePad, bottom: 0 },
            },
          },
        },
      },
      plugins: [makePlugin(p, idx)],
    } as any);
    return () => chart.destroy();
  }, []);
  return (
    <div style={{ position: "absolute", left: 0, top: p.top, width: 705, height: p.height }}>
      <canvas ref={ref} width={705} height={p.height} style={{ display: "block", width: 705, height: p.height }} />
    </div>
  );
}

export default function App() {
  return (
    <div style={{ position: "absolute", left: 0, top: 0, width: 705, height: 1713, background: "#fff", overflow: "hidden" }}>
      {panels.map((_, i) => (
        <Panel key={i} idx={i} />
      ))}
    </div>
  );
}
